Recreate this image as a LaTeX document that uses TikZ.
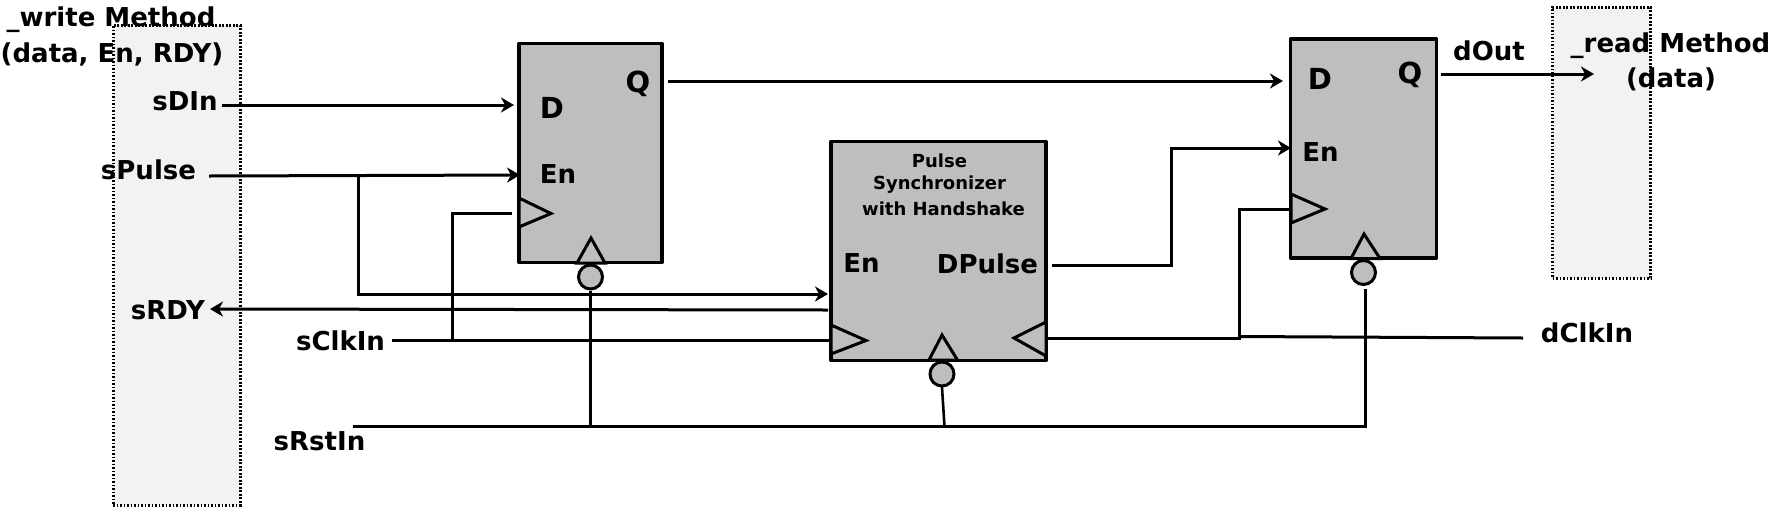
\documentclass[tikz,border=0pt]{standalone}
\usepackage{fontspec}
\setmainfont{DejaVu Sans}
\usetikzlibrary{arrows.meta,shapes.geometric}
\definecolor{blockgray}{HTML}{BEBEBE}
\definecolor{methodgray}{HTML}{F2F2F2}
\tikzset{
  block/.style={draw=black,fill=blockgray,line width=3.2pt,rectangle,inner sep=0pt,line join=round},
  method/.style={draw=black,fill=methodgray,line width=3pt,dash pattern=on 1.8pt off 1.7pt,rectangle,inner sep=0pt},
  lbl/.style={font=\fontsize{26}{26}\selectfont\bfseries,inner sep=0pt,anchor=center},
  big/.style={font=\fontsize{29}{29}\selectfont\bfseries,inner sep=0pt,anchor=center},
  small/.style={font=\fontsize{18}{18}\selectfont\bfseries,inner sep=0pt,anchor=center},
  wire/.style={line width=3pt,line join=miter,draw=black},
  thin wire/.style={line width=2.6pt,line join=miter,draw=black,line cap=rect},
  sig/.style={wire,-{Stealth[length=13pt,width=15pt,inset=4pt]}},
  tri/.style={draw=black,fill=blockgray,line width=3pt,line join=miter},
  bubble/.style={draw=black,fill=blockgray,line width=3pt,ellipse,inner sep=0pt,minimum width=24pt,minimum height=24pt},
}
\begin{document}
\begin{tikzpicture}[x=1pt,y=-1pt]
\useasboundingbox (0,0) rectangle (1774,507);
% method boxes
\node[method,minimum width=127pt,minimum height=480pt] (wm) at (176.5,265) {};
\node[method,minimum width=98pt,minimum height=271pt] (rm) at (1601.5,142.5) {};
% blocks
\node[block,minimum width=143pt,minimum height=219pt] (ff1) at (590.5,153) {};
\node[block,minimum width=215pt,minimum height=219pt] (ps) at (938.5,251) {};
\node[block,minimum width=146pt,minimum height=219pt] (ff2) at (1363.5,148.5) {};
% clock and reset triangles
\draw[tri] (519,198) -- (551,213.5) -- (519,227) -- cycle;
\draw[tri] (591,238) -- (577,263) -- (605,263) -- cycle;
\draw[tri] (831,325) -- (866,340.5) -- (831,354) -- cycle;
\draw[tri] (1046,322) -- (1014,338) -- (1046,356) -- cycle;
\draw[tri] (942,335) -- (929,360) -- (957.5,360) -- cycle;
\draw[tri] (1291,194) -- (1325,209) -- (1291,223) -- cycle;
\draw[tri] (1364,234) -- (1351,258.5) -- (1380,258.5) -- cycle;
% reset bubbles
\node[bubble] (b1) at (590.5,277) {};
\node[bubble] (b2) at (942,374) {};
\node[bubble] (b3) at (1363.5,272.5) {};
% labels
\node[lbl] (twrite) at (111,20) {\_write Method};
\node[lbl] (tdata) at (112,54) {(data, En, RDY)};
\node[lbl] (lsdin) at (185,101.5) {sDIn};
\node[lbl] (lspulse) at (148.5,170) {sPulse};
\node[lbl] (lsrdy) at (168,310.5) {sRDY};
\node[lbl] (lsclk) at (340.5,340.5) {sClkIn};
\node[lbl] (lsrst) at (319.5,441) {sRstIn};
\node[big] (d1) at (552,107.5) {D};
\node[big] (q1) at (638,84) {Q};
\node[lbl] (en1) at (558,174) {En};
\node[small] (p1) at (939.5,161) {Pulse};
\node[small] (p2) at (939.5,185) {Synchronizer};
\node[small] (p3) at (943.5,209) {with Handshake};
\node[lbl] (en2) at (861.5,263) {En};
\node[lbl] (dp) at (987.5,264) {DPulse};
\node[big] (d2) at (1320,79) {D};
\node[big] (q2) at (1410,74.5) {Q};
\node[lbl] (en3) at (1320.5,152) {En};
\node[lbl] (ldout) at (1489,51) {dOut};
\node[lbl] (tread) at (1670.5,46) {\_read Method};
\node[lbl] (tdata2) at (1671,79) {(data)};
\node[lbl] (ldclk) at (1587,333) {dClkIn};
% wire ports
\coordinate (a1) at (222,105);
\coordinate (a2) at (514,105);
\coordinate (b1s) at (209,176);
\coordinate (b1e) at (520,175);
\coordinate (j1) at (358,175.5);
\coordinate (j1b) at (358,294);
\coordinate (pen) at (828,294);
\coordinate (rdyo) at (828,310);
\coordinate (rdyi) at (210,309);
\coordinate (cks) at (391.5,340);
\coordinate (cke) at (832,340);
\coordinate (j2) at (452,340);
\coordinate (j2t) at (452,213);
\coordinate (ck1) at (512,213);
\coordinate (qo) at (668,81);
\coordinate (di) at (1283,81);
\coordinate (rs) at (353,426.5);
\coordinate (j3) at (590.5,426.5);
\coordinate (j4) at (944.5,426.5);
\coordinate (rr) at (1365.5,426.5);
\coordinate (rt) at (1365.5,290);
\coordinate (dpo) at (1052,265);
\coordinate (dpm) at (1171,265);
\coordinate (dpt) at (1171,148);
\coordinate (eni) at (1291,148);
\coordinate (pso) at (1046,338.5);
\coordinate (j5) at (1239,338.5);
\coordinate (j5t) at (1239,209);
\coordinate (ck2) at (1291,209);
\coordinate (j5b) at (1239,336.5);
\coordinate (dce) at (1523,338);
\coordinate (oo) at (1441,74);
\coordinate (oe) at (1594,74);
% wires
\draw[sig] (a1) -- (a2);
\draw[sig] (b1s) -- (b1e);
\draw[sig] (j1) -- (j1b) -- (pen);
\draw[sig] (rdyo) -- (rdyi);
\draw[wire] (cks) -- (cke);
\draw[wire] (j2) -- (j2t) -- (ck1);
\draw[sig] (qo) -- (di);
\draw[wire] (rs) -- (rr);
\draw[thin wire] (rr) -- (rt);
\draw[wire] (j3) -- (b1.south);
\draw[thin wire] (j4) -- (b2.south);
\draw[sig] (dpo) -- (dpm) -- (dpt) -- (eni);
\draw[wire] (pso) -- (j5) -- (j5t) -- (ck2);
\draw[wire] (j5b) -- (dce);
\draw[sig] (oo) -- (oe);
\end{tikzpicture}
\end{document}
